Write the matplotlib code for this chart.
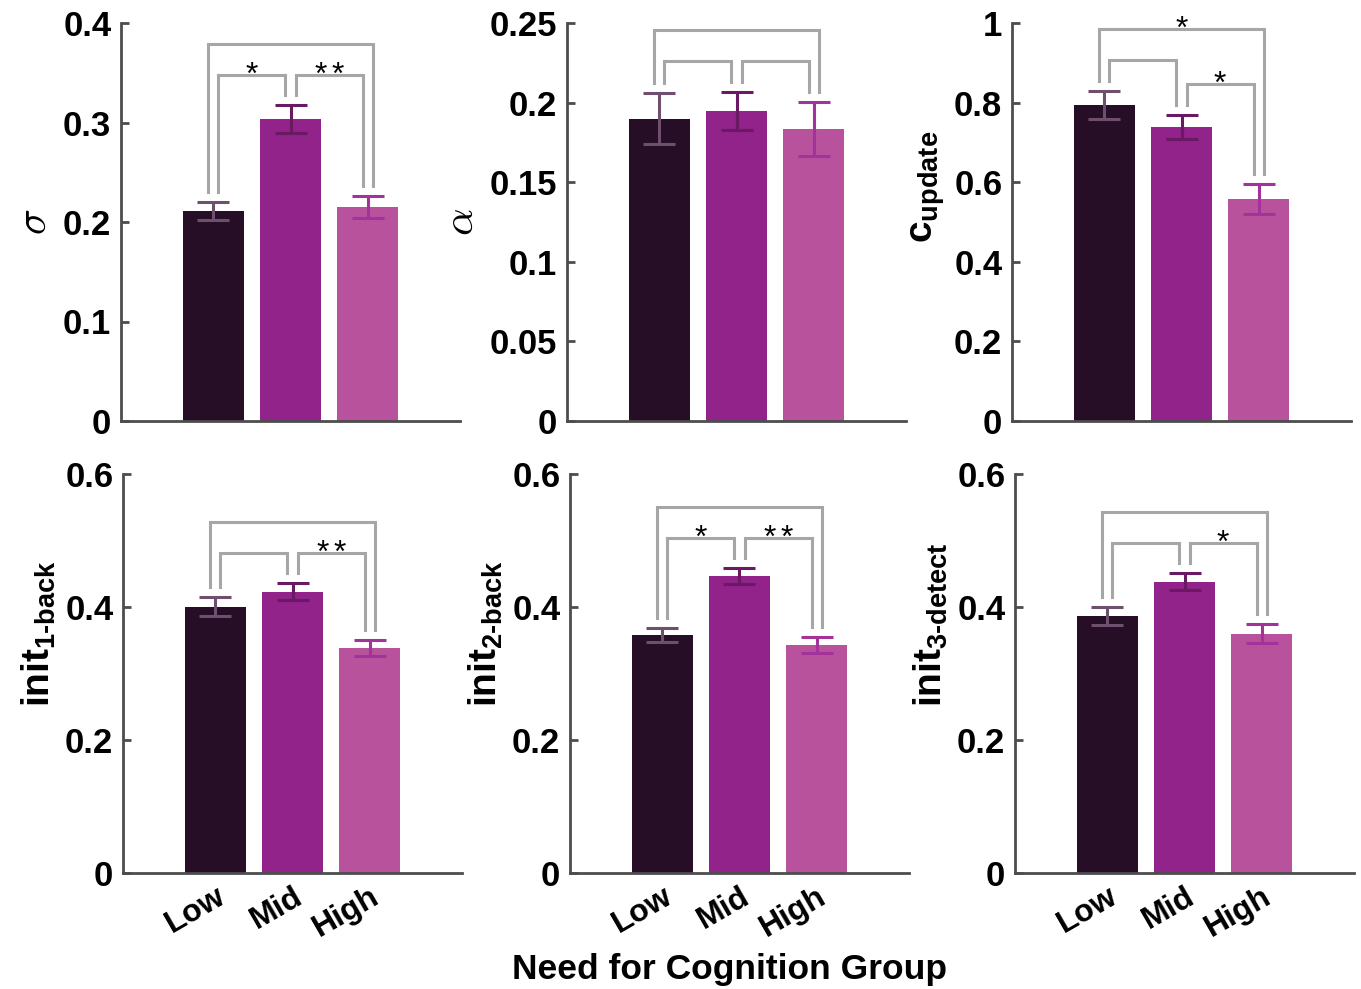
import matplotlib
matplotlib.use("Agg")
import matplotlib.pyplot as plt
import numpy as np

# group labels and colours
groups = ["Low", "Mid", "High"]
bar_colors = ["#260e26", "#91238b", "#b8529c"]
err_colors = ["#6e4f6e", "#6a1a62", "#a3329a"]
bracket_color = "#a6a6a6"

# mean and SEM
sigma_mean = [0.211, 0.3035, 0.215]
sigma_sem = [0.0087, 0.0137, 0.011]
alpha_mean = [0.190, 0.1947, 0.1832]
alpha_sem = [0.016, 0.012, 0.017]
cupd_mean = [0.795, 0.739, 0.557]
cupd_sem = [0.035, 0.031, 0.038]
init1_mean = [0.4005, 0.4233, 0.3383]
init1_sem = [0.014, 0.0122, 0.0117]
init2_mean = [0.358, 0.446, 0.343]
init2_sem = [0.011, 0.012, 0.0117]
init3_mean = [0.386, 0.4378, 0.3596]
init3_sem = [0.0135, 0.0127, 0.0142]

# number of significance stars: (Low-Mid, Mid-High, Low-High)
sigma_stars = (1, 2, 0)
alpha_stars = (0, 0, 0)
cupd_stars = (0, 1, 1)
init1_stars = (0, 2, 0)
init2_stars = (1, 2, 0)
init3_stars = (0, 1, 0)

# y axes
sigma_ticks = [0, 0.1, 0.2, 0.3, 0.4]
sigma_labels = ["0", "0.1", "0.2", "0.3", "0.4"]
alpha_ticks = [0, 0.05, 0.1, 0.15, 0.2, 0.25]
alpha_labels = ["0", "0.05", "0.1", "0.15", "0.2", "0.25"]
cupd_ticks = [0, 0.2, 0.4, 0.6, 0.8, 1.0]
cupd_labels = ["0", "0.2", "0.4", "0.6", "0.8", "1"]
init_ticks = [0, 0.2, 0.4, 0.6]
init_labels = ["0", "0.2", "0.4", "0.6"]

plt.rcParams["font.family"] = ["Liberation Sans", "DejaVu Sans"]
plt.rcParams["font.weight"] = "bold"
plt.rcParams["mathtext.fontset"] = "custom"
plt.rcParams["mathtext.rm"] = "Liberation Sans:bold"
plt.rcParams["mathtext.bf"] = "Liberation Sans:bold"
plt.rcParams["mathtext.it"] = "Liberation Sans:bold:italic"


def draw_panel(ax, means, sems, ticks, ticklabels, ylabel, stars, show_x,
               greek=False, label_start=None):
    x = np.arange(1, 4)
    ymax = ticks[-1]
    ax.bar(x, means, width=0.8, color=bar_colors, zorder=2)
    for xi, m, s, c in zip(x, means, sems, err_colors):
        ax.errorbar(xi, m, yerr=s, fmt="none", ecolor=c, elinewidth=2.2,
                    capsize=11.5, capthick=2.2, zorder=3)

    # brackets
    gap, rise, outer = 0.025 * ymax, 0.052 * ymax, 0.078 * ymax
    leg = [m + s + gap for m, s in zip(means, sems)]
    y_lm = max(leg[0], leg[1]) + rise
    y_mh = max(leg[1], leg[2]) + rise
    y_lh = max(y_lm, y_mh) + outer
    d = 0.065
    kw = dict(color=bracket_color, lw=2.2, clip_on=False, zorder=1,
              solid_joinstyle="miter")
    ax.plot([1 + d, 1 + d, 2 - d, 2 - d], [leg[0], y_lm, y_lm, leg[1]], **kw)
    ax.plot([2 + d, 2 + d, 3 - d, 3 - d], [leg[1], y_mh, y_mh, leg[2]], **kw)
    ax.plot([1 - d, 1 - d, 3 + d, 3 + d], [leg[0], y_lh, y_lh, leg[2]], **kw)
    for n, xc, yc in zip(stars, [1.5, 2.5, 2.0], [y_lm, y_mh, y_lh]):
        for i in range(n):
            dx = (i - (n - 1) / 2) * 12.5
            ax.annotate("*", xy=(xc, yc), xytext=(dx, -1), textcoords="offset points",
                        ha="center", va="center", fontsize=23, fontweight="normal",
                        annotation_clip=False)

    ax.set_xlim(-0.2, 4.2)
    ax.set_ylim(0, ymax)
    ax.set_yticks(ticks)
    ax.set_yticklabels(ticklabels)
    ax.set_xticks(x)
    ax.tick_params(axis="x", length=0, pad=6)
    ax.tick_params(axis="y", direction="in", length=6, width=2, color="#4d4d4d",
                   labelsize=25, pad=7)
    if show_x:
        ax.set_xticklabels(groups, rotation=30, ha="right", va="top",
                           rotation_mode="anchor", fontsize=23)
    else:
        ax.set_xticklabels([])
    for sp in ["top", "right"]:
        ax.spines[sp].set_visible(False)
    for sp in ["left", "bottom"]:
        ax.spines[sp].set_linewidth(2)
        ax.spines[sp].set_color("#4d4d4d")
    if greek:
        ax.set_ylabel(ylabel, fontsize=31, math_fontfamily="cm", labelpad=6)
    else:
        ax.set_ylabel(ylabel, fontsize=28, labelpad=5)
    if label_start is not None:
        ax.yaxis.label.set_ha("left")
        ax.yaxis.label.set_y(label_start)


fig = plt.figure(figsize=(13.61, 9.89), dpi=100)
W, H = 1361, 989
pw = 339

top_l = [121, 567, 1012]
bot_l = [123, 570, 1015]
top_axes = [fig.add_axes([l / W, 1 - 421 / H, pw / W, 398 / H]) for l in top_l]
bot_axes = [fig.add_axes([l / W, 1 - 873 / H, pw / W, 399 / H]) for l in bot_l]

draw_panel(top_axes[0], sigma_mean, sigma_sem, sigma_ticks, sigma_labels,
           r"$\sigma$", sigma_stars, False, greek=True)
draw_panel(top_axes[1], alpha_mean, alpha_sem, alpha_ticks, alpha_labels,
           r"$\alpha$", alpha_stars, False, greek=True)
draw_panel(top_axes[2], cupd_mean, cupd_sem, cupd_ticks, cupd_labels,
           r"$\mathrm{c}_{\mathrm{update}}$", cupd_stars, False, label_start=0.447)
draw_panel(bot_axes[0], init1_mean, init1_sem, init_ticks, init_labels,
           r"$\mathrm{init}_{\text{1-back}}$", init1_stars, True, label_start=0.416)
draw_panel(bot_axes[1], init2_mean, init2_sem, init_ticks, init_labels,
           r"$\mathrm{init}_{\text{2-back}}$", init2_stars, True, label_start=0.416)
draw_panel(bot_axes[2], init3_mean, init3_sem, init_ticks, init_labels,
           r"$\mathrm{init}_{\text{3-detect}}$", init3_stars, True, label_start=0.416)

fig.text(729 / W, 1 - 970 / H, "Need for Cognition Group", ha="center", va="center",
         fontsize=25.5, fontweight="bold")

fig.savefig("out.png", dpi=100)
